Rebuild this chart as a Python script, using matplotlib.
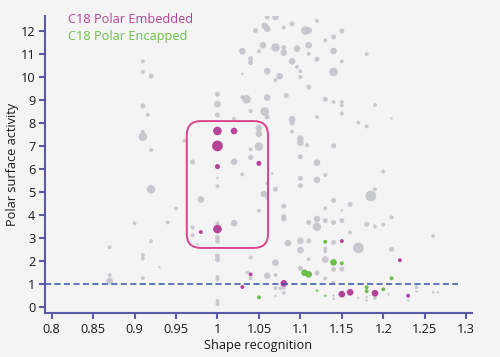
import matplotlib
matplotlib.use("Agg")
import matplotlib.pyplot as plt
from matplotlib.patches import FancyBboxPatch
import numpy as np

plt.rcParams['font.family'] = ['Open Sans', 'DejaVu Sans']

# ---------------- data ----------------
gray_x = [0.91, 0.91, 0.92, 0.91, 0.916, 0.91, 0.91, 0.92, 0.96, 0.97, 0.92, 0.98, 0.95, 0.90, 0.94,
          0.97, 0.97, 0.976, 0.87, 0.92, 0.91, 0.91, 0.93, 0.87, 0.87, 0.91,
          1.00, 1.00, 1.00, 1.00, 1.00, 1.00, 1.00, 1.00, 1.00, 1.00, 1.00, 1.00, 1.00, 1.00,
          1.02, 1.02, 1.02, 1.03, 1.03, 1.03, 1.035, 1.03, 1.036, 1.04, 1.04, 1.04, 1.04, 1.04, 1.04,
          1.046, 1.05, 1.05, 1.05, 1.05, 1.05, 1.055, 1.057, 1.06, 1.06, 1.07, 1.057, 1.06, 1.06, 1.06,
          1.056, 1.06, 1.06, 1.066, 1.06, 1.07, 1.07, 1.075, 1.07, 1.07, 1.07, 1.07, 1.076, 1.08, 1.08,
          1.07, 1.08, 1.08, 1.08, 1.083, 1.08, 1.08, 1.08, 1.085, 1.09, 1.09, 1.09, 1.09, 1.09, 1.096,
          1.096, 1.10, 1.10, 1.10, 1.10, 1.108, 1.10, 1.10, 1.10, 1.10, 1.10, 1.10, 1.106, 1.11, 1.11,
          1.11, 1.11, 1.11, 1.11, 1.11, 1.12, 1.12, 1.12, 1.12, 1.12, 1.12, 1.12, 1.12, 1.13, 1.13,
          1.13, 1.13, 1.13, 1.13, 1.13, 1.13, 1.13, 1.14, 1.14, 1.14, 1.14, 1.14, 1.14, 1.14, 1.14,
          1.14, 1.14, 1.14, 1.14, 1.15, 1.15, 1.15, 1.15, 1.15, 1.15, 1.15, 1.15, 1.16, 1.16, 1.17,
          1.17, 1.17, 1.18, 1.18, 1.185, 1.18, 1.18, 1.18, 1.19, 1.19, 1.19, 1.19, 1.20, 1.20, 1.206,
          1.21, 1.21, 1.21, 1.23, 1.24, 1.24, 1.26, 1.26, 1.266, 1.04]
gray_y = [10.68, 10.22, 10.04, 8.74, 8.35, 7.40, 7.61, 6.82, 7.23, 6.30, 5.11, 4.67, 4.28, 3.63, 3.67,
          3.45, 3.11, 2.72, 2.59, 2.85, 2.25, 2.10, 1.72, 1.38, 1.12, 1.25,
          9.25, 8.82, 8.35, 5.60, 5.25, 3.63, 3.01, 2.86, 2.21, 2.05, 1.29, 1.19, 0.26, 0.11,
          8.18, 6.31, 3.64, 5.76, 11.12, 10.13, 9.03, 9.13, 1.49, 8.52, 10.80, 10.62, 6.85, 6.50, 2.15,
          12.02, 11.12, 7.78, 7.52, 6.97, 4.18, 11.38, 12.22, 12.10, 12.61, 12.61, 8.50, 8.26, 10.25, 9.10,
          4.91, 4.76, 5.37, 5.80, 1.35, 11.28, 9.86, 10.03, 5.12, 1.92, 1.38, 0.81, 0.80, 0.83, 0.60,
          0.47, 12.15, 11.28, 11.06, 9.19, 4.38, 3.92, 3.82, 2.77, 12.31, 10.68, 8.16, 8.00, 7.62, 11.23,
          10.44, 10.25, 10.00, 7.32, 7.14, 7.03, 6.53, 5.59, 5.27, 2.87, 2.47, 1.67, 12.02, 12.02, 11.38,
          11.01, 9.56, 3.67, 2.87, 2.07, 12.44, 10.77, 8.26, 6.27, 5.52, 3.82, 3.48, 1.47, 11.59, 9.03,
          5.73, 4.28, 3.75, 2.54, 2.41, 2.05, 1.23, 11.74, 11.13, 10.22, 8.91, 7.00, 4.63, 3.67, 2.80,
          1.63, 1.04, 0.49, 0.34, 12.00, 10.68, 8.91, 8.77, 8.41, 4.19, 3.75, 1.64, 4.46, 3.23, 2.56,
          0.38, 8.01, 7.85, 11.00, 4.82, 3.59, 0.42, 0.27, 8.78, 5.11, 3.49, 0.39, 5.88, 3.58, 0.54,
          8.20, 3.89, 2.50, 0.29, 0.85, 0.66, 3.08, 0.63, 0.63, 1.24]
gray_w = [2, 2, 3, 3, 2, 5, 2, 2, 2, 3, 5, 4, 2, 2, 2,
          2, 2, 1, 2, 2, 2, 2, 1, 2, 4, 2,
          3, 4, 3, 1, 2, 2, 3, 3, 3, 3, 2, 2, 2, 2,
          2, 4, 4, 2, 4, 1, 5, 2, 2, 2, 3, 3, 2, 3, 2,
          3, 2, 4, 4, 5, 2, 4, 4, 4, 3, 4, 5, 3, 4, 4,
          4, 2, 2, 1, 4, 5, 2, 4, 3, 4, 2, 2, 2, 2, 2,
          1, 2, 3, 4, 3, 3, 3, 3, 4, 3, 4, 4, 3, 2, 4,
          2, 2, 2, 4, 4, 2, 3, 3, 3, 4, 4, 3, 5, 4, 4,
          2, 3, 3, 3, 2, 2, 3, 2, 4, 4, 4, 5, 3, 2, 3,
          2, 2, 3, 2, 2, 4, 2, 3, 4, 5, 2, 3, 3, 3, 3,
          3, 2, 1, 1, 3, 2, 2, 2, 2, 1, 3, 3, 3, 2, 6,
          1, 2, 2, 2, 6, 3, 1, 1, 2, 2, 2, 2, 2, 2, 1,
          1, 2, 3, 1, 2, 1, 2, 1, 1, 2]

embedded_x = [1.00, 1.02, 1.00, 1.00, 1.05, 1.00, 0.98, 1.03, 1.04, 1.08, 1.15, 1.22, 1.15, 1.16, 1.19, 1.23]
embedded_y = [7.65, 7.65, 7.00, 6.10, 6.24, 3.38, 3.25, 0.86, 1.41, 1.02, 2.86, 2.03, 0.55, 0.63, 0.59, 0.48]
embedded_w = [5, 4, 6, 3, 3, 5, 2, 2, 2, 4, 2, 2, 4, 4, 4, 2]

encapped_x = [1.13, 1.14, 1.15, 1.105, 1.11, 1.21, 1.05, 1.18, 1.18, 1.20, 1.12, 1.13]
encapped_y = [2.83, 1.93, 1.89, 1.48, 1.41, 1.24, 0.41, 0.85, 0.68, 0.76, 0.70, 0.48]
encapped_w = [2, 4, 2, 4, 4, 2, 2, 2, 2, 2, 1, 1]

x_ticks = [0.8, 0.85, 0.9, 0.95, 1.0, 1.05, 1.1, 1.15, 1.2, 1.25, 1.3]
x_tick_labels = ["0.8", "0.85", "0.9", "0.95", "1", "1.05", "1.1", "1.15", "1.2", "1.25", "1.3"]
y_ticks = list(range(0, 13))
threshold = 1.0
threshold_end = 1.29
box_x = (0.963, 1.061)
box_y = (2.56, 8.08)

# ---------------- style ----------------
BG = '#f4f4f4'
GRAY = '#c4c4cb'
MAGENTA = '#b5439a'
GREEN = '#6cc04a'
AXIS = '#5a5aa8'
DASH = '#3556b0'
BOX = '#d9438f'
SIZE_SCALE = {1: 3, 2: 8, 3: 13, 4: 23, 5: 38, 6: 60}

def sizes(w):
    return [SIZE_SCALE[v] for v in w]

fig = plt.figure(figsize=(5.0, 3.57), dpi=100, facecolor=BG)
ax = fig.add_axes([0.09, 0.122, 0.854, 0.833])
ax.set_facecolor(BG)

ax.scatter(gray_x, gray_y, s=sizes(gray_w), color=GRAY, linewidths=0, alpha=0.9, zorder=2)
ax.scatter(embedded_x, embedded_y, s=sizes(embedded_w), color=MAGENTA, linewidths=0, zorder=3)
ax.scatter(encapped_x, encapped_y, s=sizes(encapped_w), color=GREEN, linewidths=0, zorder=3)

ax.set_xlim(0.792, 1.307)
ax.set_ylim(-0.29, 12.65)

ax.hlines(threshold, 0.792, threshold_end, colors=DASH, linestyles=(0, (4, 2.2)),
          linewidth=1.1, zorder=4)

rw = box_x[1] - box_x[0]
rh = box_y[1] - box_y[0]
box = FancyBboxPatch((box_x[0], box_y[0]), rw, rh,
                     boxstyle="round,pad=0,rounding_size=0.017",
                     mutation_aspect=36, fill=False, edgecolor=BOX, linewidth=1.4, zorder=5)
ax.add_patch(box)

for s in ['top', 'right']:
    ax.spines[s].set_visible(False)
for s in ['left', 'bottom']:
    ax.spines[s].set_color(AXIS)
    ax.spines[s].set_linewidth(1.5)

ax.set_xticks(x_ticks)
ax.set_xticklabels(x_tick_labels)
ax.set_yticks(y_ticks)
ax.tick_params(axis='both', colors=AXIS, length=4, width=1.5, direction='out',
               labelcolor='#1a1a1a', labelsize=9.2, pad=3)

ax.set_xlabel("Shape recognition", fontsize=9.2, color='#1a1a1a', labelpad=2)
ax.set_ylabel("Polar surface activity", fontsize=9.2, color='#1a1a1a', labelpad=1)

ax.text(0.054, 0.99, "C18 Polar Embedded", transform=ax.transAxes, color=MAGENTA,
        fontsize=9.2, va='center', ha='left')
ax.text(0.054, 0.93, "C18 Polar Encapped", transform=ax.transAxes, color=GREEN,
        fontsize=9.2, va='center', ha='left')

fig.savefig("out.png", dpi=100, facecolor=BG)
